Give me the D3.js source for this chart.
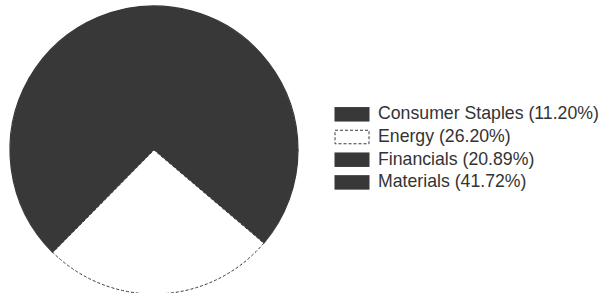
<!DOCTYPE html>
<html><head><meta charset="utf-8">
<script src="https://cdn.jsdelivr.net/npm/d3@7"></script>
<style>body{margin:0;background:#fff}svg{display:block}</style>
</head><body>
<svg id="c" width="602" height="293"></svg>
<script>
const categories = ["Consumer Staples", "Energy", "Financials", "Materials"];
const values = [11.20, 26.20, 20.89, 41.72];
const labels = ["Consumer Staples (11.20%)", "Energy (26.20%)", "Financials (20.89%)", "Materials (41.72%)"];
const fills = ["#383838", "#ffffff", "#383838", "#383838"];
const dashed = [false, true, false, false];

const svg = d3.select("#c");
const cx = 154, cy = 150, r = 144;
const pie = d3.pie().sort(null).value(d => d.v)
  .startAngle(Math.PI / 2).endAngle(Math.PI / 2 + 2 * Math.PI);
const data = categories.map((c, i) => ({c, v: values[i], i}));
const arc = d3.arc().innerRadius(0).outerRadius(r);
const g = svg.append("g").attr("transform", `translate(${cx},${cy})`);
const arcs = pie(data);
// dark slices first with matching stroke to hide seams
g.selectAll("path.dark").data(arcs.filter(d => !dashed[d.data.i])).join("path")
  .attr("class", "dark")
  .attr("d", arc)
  .attr("fill", d => fills[d.data.i])
  .attr("stroke", d => fills[d.data.i])
  .attr("stroke-width", 1.2)
  .attr("stroke-linejoin", "round");
g.selectAll("path.light").data(arcs.filter(d => dashed[d.data.i])).join("path")
  .attr("class", "light")
  .attr("d", arc)
  .attr("fill", d => fills[d.data.i])
  .attr("stroke", "#383838")
  .attr("stroke-width", 1)
  .attr("stroke-dasharray", "3,2");

const y = d3.scaleBand().domain(categories).range([102.7, 193.5]);
const lg = svg.append("g");
const rows = lg.selectAll("g").data(categories).join("g")
  .attr("transform", d => `translate(0,${y(d) + y.bandwidth() / 2})`);
rows.append("rect")
  .attr("x", (d, i) => dashed[i] ? 335 : 334.5)
  .attr("y", (d, i) => dashed[i] ? -6.5 : -7)
  .attr("width", (d, i) => dashed[i] ? 34 : 35)
  .attr("height", (d, i) => dashed[i] ? 13.5 : 14.5)
  .attr("fill", (d, i) => fills[i])
  .attr("stroke", (d, i) => dashed[i] ? "#383838" : "none")
  .attr("stroke-dasharray", (d, i) => dashed[i] ? "3,2" : null);
rows.append("text")
  .attr("x", 378).attr("y", -1).attr("dy", "0.35em")
  .attr("font-family", "Liberation Sans, Arial, sans-serif")
  .attr("font-size", 17.7).attr("fill", "#333")
  .text((d, i) => labels[i]);
</script>
</body></html>
